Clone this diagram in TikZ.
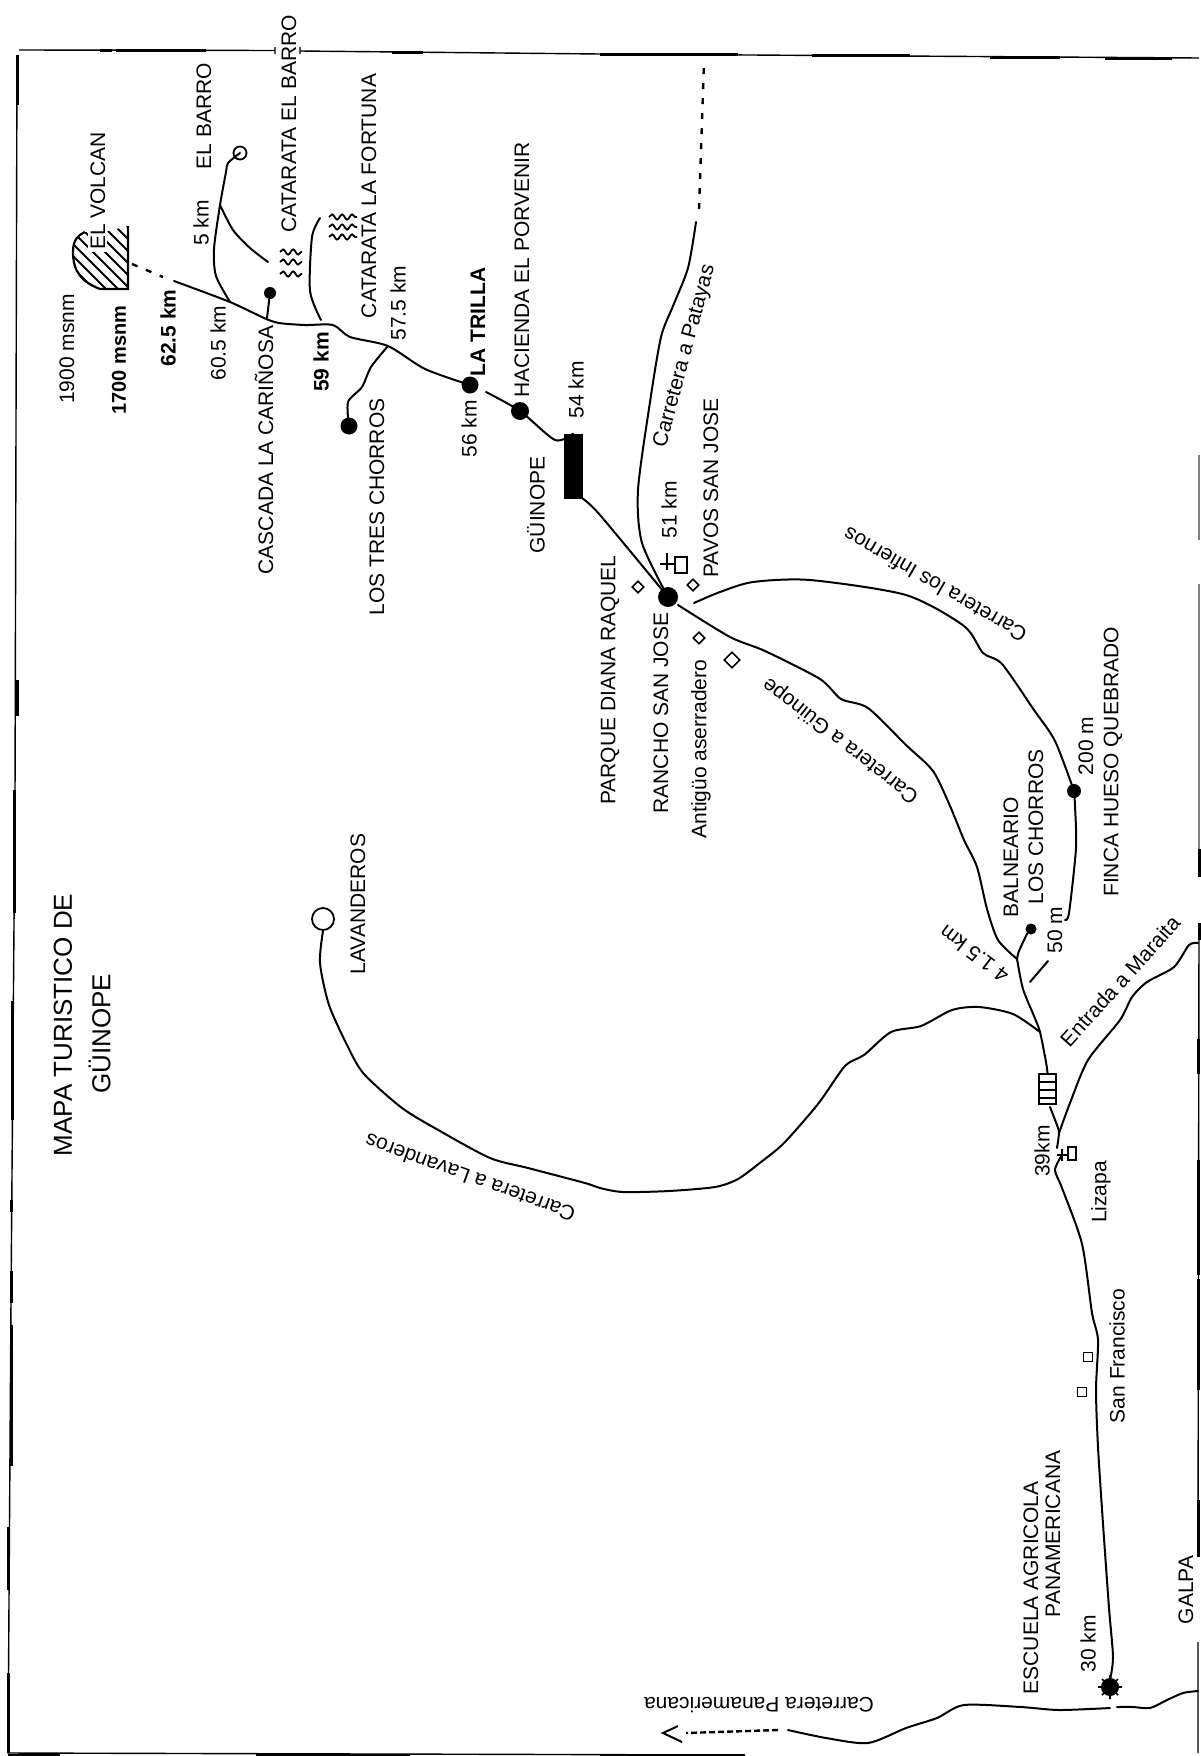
\documentclass[tikz,border=0pt]{standalone}
\usepackage{fontspec}
\setmainfont{Liberation Sans}
\usetikzlibrary{decorations.pathmorphing,shapes.geometric}
\tikzset{
  lab/.style={inner sep=0pt,font=\fontsize{10.5}{12}\selectfont},
  vlab/.style={lab,rotate=90},
  blab/.style={vlab,font=\fontsize{10.5}{12}\selectfont\bfseries},
  titlelab/.style={vlab,font=\fontsize{13}{15}\selectfont},
  road/.style={line width=1pt,smooth,tension=.45,line cap=round,line join=round},
  framethin/.style={line width=0.7pt},
  framethick/.style={line width=1.5pt},
  dotted road/.style={line width=1.2pt,dash pattern=on 3pt off 4.5pt},
  bigdot/.style={circle,fill=black,inner sep=0pt,minimum size=#1},
  ringdot/.style={circle,draw=black,fill=white,line width=.9pt,inner sep=0pt,minimum size=#1},
  hutbox/.style={diamond,draw=black,fill=white,line width=.8pt,inner sep=0pt,minimum size=6pt},
  smallhouse/.style={draw=black,fill=white,line width=.8pt,inner sep=0pt,minimum size=4.5pt},
  squig/.style={line width=.9pt,decorate,decoration={snake,amplitude=1.3pt,segment length=5pt}},
  sym/.style={line width=1pt}
}
\begin{document}
\begin{tikzpicture}[x=0.5pt,y=-0.5pt]
\useasboundingbox (0,0) rectangle (1200,1756);
\fill[white] (0,0) rectangle (1200,1756);
% frame
\draw[framethin] (19,50) -- (275,50.5) (275,47) -- (275,54) (300,47) -- (300,54) (300,51) -- (600,54) -- (1199,58);
\draw[framethick] (100,50) -- (112,50) (116,50) -- (206,50) (392,52) -- (423,52) (600,54) -- (738,54) (812,55) -- (910,55) (990,57) -- (1060,57) (1105,58) -- (1172,58);
\draw[framethin] (17,55) -- (15,800) -- (11,1300) -- (8,1753) -- (745,1755);
\draw[framethick] (17,55) -- (17,105) (17,680) -- (17,716) (14.5,790) -- (14.5,913) (12,1001) -- (12,1120) (11,1200) -- (11,1212) (11,1271) -- (11,1303) (11,1325) -- (11,1466) (8,1527) -- (8,1590) (8,1673) -- (8,1753);
\draw[framethick] (8,1755) -- (60,1755) (256,1755) -- (410,1755) (600,1755) -- (745,1755);
\draw[framethin,gray] (1199,455) -- (1199,540) (1199,584) -- (1199,850);
\draw[framethin] (1199,923) -- (1198,1557) (1198,1642) -- (1198,1753);
\draw[framethick] (1199,849) -- (1199,877) (1199,923) -- (1199,940) (1198,1039) -- (1198,1074) (1198,1160) -- (1198,1275) (1198,1279) -- (1198,1390) (1198,1500) -- (1198,1557);

% points of interest
\node[bigdot=6pt] (cascada) at (270,293) {};
\node[bigdot=8.5pt] (chorros) at (349,426) {};
\node[bigdot=8.5pt] (trilla) at (470,385) {};
\node[bigdot=9pt] (porvenir) at (520,411) {};
\node[bigdot=10pt] (rancho) at (668,597) {};
\node[bigdot=7pt] (hueso) at (1074,791) {};
\node[bigdot=5.5pt] (balneario) at (1031,929) {};
\node[ringdot=6.5pt] (barro) at (240,153) {};
\node[ringdot=11pt] (lavanderos) at (323,919) {};
\node[draw=black,fill=black,minimum width=9pt,minimum height=32pt,inner sep=0pt] (guinope) at (573,466) {};
\coordinate (jBarro) at (230,302);
\coordinate (jFork) at (220,205);
\coordinate (jTres) at (388,346);
\coordinate (jBal) at (1017,959);
\coordinate (jLav) at (1040,1032);
\coordinate (jMar) at (1059,1133);
\node[draw=black,fill=white,line width=1.2pt,minimum width=8.5pt,minimum height=15pt,inner sep=0pt] (gridbox) at (1047.5,1089) {};
\draw[line width=1.1pt] (1039,1082) -- (1056,1082) (1039,1090) -- (1056,1090) (1039,1098) -- (1056,1098);

% roads
\draw[dotted road] (132,264) -- (163,277);
\draw[road] plot coordinates {(174,281) (jBarro) (264,318) (279,323) (305,325) (333,325) (350,337) (jTres) (425,369) (trilla)};
\draw[road] plot coordinates {(486,392) (porvenir) (555,440) (guinope.north)};
\draw[road] plot coordinates {(guinope.south east) (600,515) (rancho)};
\draw[road] plot coordinates {(jBarro) (216,276) (214,249) (jFork) (226,172) (228,163) (barro)};
\draw[road] plot coordinates {(jFork) (233,230) (250,248) (268,262)};
\draw[road] (cascada) -- (267,318);
\draw[road] plot coordinates {(320,218) (312,237) (310,291) (321,320)};
\draw[road] plot coordinates {(jTres) (371,367) (362,387) (348,402) (chorros)};
\draw[road] plot coordinates {(rancho) (642,543) (638,490) (650,402) (661,337) (673,306) (688,268) (696,222)};
\draw[dotted road] (699,209) -- (704,63);
\draw[road] plot coordinates {(694,603) (720,592) (753,582) (810,580) (906,595) (964,626) (983,653) (1002,664) (1034,710) (1055,741) (hueso)};
\draw[road] plot coordinates {(hueso) (1075,806) (1076,848) (1069,913) (1065,920)};
\draw[road] (1048,961) -- (1030,982);
\draw[road] plot coordinates {(678,605) (730,637) (765,651) (820,679) (841,699) (868,708) (906,745) (933,771) (950,806) (964,840) (977,867) (987,909) (998,940) (jBal)};
\draw[road] plot coordinates {(balneario) (1027,934) (1019,951) (jBal)};
\draw[road] plot coordinates {(jBal) (1023,989) (1034,1016) (jLav) (1046,1062) (gridbox.north)};
\draw[road] plot coordinates {(1050,1107) (1057,1125) (jMar) (1057,1148)};
\draw[road] plot coordinates {(jMar) (1070,1103) (1088,1060) (1120,1020) (1132,997) (1147,982) (1174,967) (1189,945) (1198,943)};
\draw[road] plot coordinates {(1062,1155) (1055,1170) (1062,1188) (1082,1244) (1092,1313) (1098,1340) (1096,1390) (1098,1447) (1103,1524) (1109,1608) (1113,1657) (1110,1680)};
\draw[road] plot coordinates {(jLav) (1013,1014) (979,1007) (952,1010) (921,1026) (891,1032) (864,1055) (845,1066) (818,1104) (784,1143) (761,1162) (738,1179) (715,1187) (669,1191) (623,1192) (600,1188) (585,1183) (528,1168) (490,1158) (440,1131) (402,1108) (364,1074) (348,1047) (329,1005) (320,963) (lavanderos.south)};
\draw[road] plot coordinates {(1198,1691) (1183,1693) (1167,1700) (1150,1708) (1133,1707) (1117,1707)};
\draw[road] plot coordinates {(1110,1708) (1059,1710) (1021,1707) (964,1705) (937,1718) (906,1728) (868,1743) (826,1738) (788,1730)};
\draw[dotted road,dash pattern=on 3pt off 1.5pt] (778,1730) -- (686,1733);
\draw[line width=1pt] (678,1726) -- (663,1733) -- (682,1742);

% volcano
\begin{scope}
\path[clip] (128,226) -- (128,289) -- (100,289) .. controls (82,282) and (73,272) .. (73,252) .. controls (73,240) and (78,235) .. (85,232) -- (105,232) -- cycle;
\foreach \d in {-60,-48,...,90} { \draw[line width=.9pt] (73,{232+\d}) -- (133,{292+\d}); }
\end{scope}
\fill[white] (88,224) rectangle (107,252);
\draw[line width=1.1pt] (128,226) -- (128,289) -- (100,289) .. controls (82,282) and (73,272) .. (73,252) .. controls (73,240) and (78,235) .. (85,232);

% waterfalls
\foreach \y in {252,262,274} { \draw[squig] (280,\y) -- (302,\y); }
\foreach \y in {217,227,237} { \draw[squig] (329,\y) -- (357,\y); }

% small symbols
\draw[sym] (660,564) -- (675,564) (667,553) -- (667,570);
\draw[sym] (675,557) rectangle (687,573);
\node[hutbox] (hutA) at (693,585) {};
\node[hutbox] (hutB) at (638,587) {};
\node[hutbox] (hutC) at (699,638) {};
\node[hutbox,minimum size=8pt] (hutD) at (732,660) {};
\node[smallhouse] (hutE) at (1088,1357) {};
\node[smallhouse] (hutF) at (1082,1392) {};
\draw[sym] (1057,1155) -- (1067,1155) (1062,1149) -- (1062,1161);
\draw[sym] (1068,1147) rectangle (1076,1160);
\node[bigdot=9pt] (escuela) at (1110,1687) {};
\draw[white,line width=.6pt] (1103,1687) -- (1117,1687) (1110,1680) -- (1110,1694);
\draw[line width=.8pt] (1098,1687) -- (1122,1687) (1110,1675) -- (1110,1699) (1102,1679) -- (1118,1695) (1102,1695) -- (1118,1679);

% labels
\node[vlab] (tVolcan) at (98,191) {EL VOLCAN};
\node[vlab] (t1900) at (67,349) {1900 msnm};
\node[blab,font=\fontsize{10}{12}\selectfont\bfseries] (t1700) at (119,360) {1700 msnm};
\node[blab] (t625) at (168,328) {62.5 km};
\node[vlab] (t605) at (218,343) {60.5 km};
\node[vlab] (t5) at (201,223) {5 km};
\node[vlab] (tBarro) at (204,116) {EL BARRO};
\node[vlab] (tCatBarro) at (289,124) {CATARATA EL BARRO};
\node[vlab] (tCatFort) at (369,196) {CATARATA LA FORTUNA};
\node[vlab] (t575) at (398,303) {57.5 km};
\node[vlab] (tPorv) at (522,270) {HACIENDA EL PORVENIR};
\node[blab] (tTrilla) at (478,322) {LA TRILLA};
\node[vlab] (t56) at (469,429) {56 km};
\node[vlab] (t54) at (576,390) {54 km};
\node[vlab] (tGui) at (536,505) {GÜINOPE};
\node[vlab] (tCasc) at (264,450) {CASCADA LA CARIÑOSA};
\node[blab] (t59) at (321,362) {59 km};
\node[vlab] (tTres) at (377,507) {LOS TRES CHORROS};
\node[vlab] (tRancho) at (661,713) {RANCHO SAN JOSE};
\node[vlab] (tParque) at (610,680) {PARQUE DIANA RAQUEL};
\node[vlab] (tAnt) at (701,749) {Antigüo aserradero};
\node[vlab] (tPavos) at (711,488) {PAVOS SAN JOSE};
\node[vlab] (t51) at (669,510) {51 km};
\node[lab,rotate=75] (tPat) at (685,356) {Carretera a Patayas};
\node[lab,rotate=150] (tInf) at (935,585) {Carretera los Infiernos};
\node[lab,rotate=142] (tGuiC) at (841,740) {Carretera a Güinope};
\node[vlab] (tBal) at (1011,857) {BALNEARIO};
\node[vlab] (tCho) at (1036,827) {LOS CHORROS};
\node[vlab] (t200) at (1086,746) {200 m};
\node[vlab] (tFinca) at (1113,762) {FINCA HUESO QUEBRADO};
\node[vlab] (t50) at (1055,930) {50 m};
\node[lab,rotate=143] (t415) at (974,954) {4 1.5 km};
\node[lab,rotate=48] (tMar) at (1120,981) {Entrada a Maraita};
\node[vlab] (t39) at (1042,1151) {39km};
\node[vlab] (tLiz) at (1101,1192) {Lizapa};
\node[vlab] (tSan) at (1117,1356) {San Francisco};
\node[vlab] (tEsc) at (1031,1588) {ESCUELA AGRICOLA};
\node[vlab] (tPan) at (1053,1534) {PANAMERICANA};
\node[vlab] (t30) at (1088,1644) {30 km};
\node[lab,rotate=180] (tPanC) at (759,1705) {Carretera Panamericana};
\node[lab,rotate=160] (tLavC) at (470,1178) {Carretera a Lavanderos};
\node[vlab] (tLav) at (358,904) {LAVANDEROS};
\node[titlelab] (tMapa) at (63,1025) {MAPA TURISTICO DE};
\node[titlelab] (tGui2) at (99.5,1034) {GÜINOPE};
\node[vlab] (tGalpa) at (1186,1590) {GALPA};
\end{tikzpicture}
\end{document}
